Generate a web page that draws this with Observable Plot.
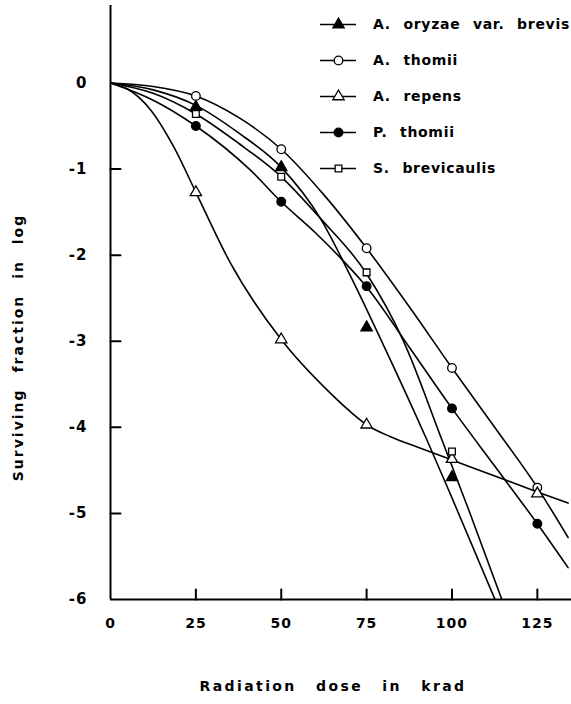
<!DOCTYPE html>
<html><head><meta charset="utf-8">
<script src="https://cdn.jsdelivr.net/npm/d3@7"></script>
<script src="https://cdn.jsdelivr.net/npm/@observablehq/plot@0.6"></script>
<style>
body{margin:0;background:#fff;}
#wrap{position:relative;width:571px;height:704px;font-family:"DejaVu Sans",sans-serif;color:#000;}
#wrap svg text{letter-spacing:1px;}
.legend{position:absolute;left:320px;top:6px;font-size:14px;font-weight:bold;letter-spacing:0.7px;word-spacing:7px;}
.row{height:36px;display:flex;align-items:center;white-space:nowrap;}
.row svg{margin-right:17px;flex:none;}
</style></head>
<body>
<div id="wrap"><div class="legend" id="legend"></div></div>
<script>
// Species names
const species = ["A. oryzae var. brevis", "A. thomii", "A. repens", "P. thomii", "S. brevicaulis"];
const xTicks = [0, 25, 50, 75, 100, 125];
const yTicks = [0, -1, -2, -3, -4, -5, -6];
const xLabel = "Radiation dose in krad";
const yLabel = "Surviving fraction in log";

// Observed points (dose krad, log surviving fraction)
const oryzaeDose = [25, 50, 75, 100];
const oryzaeVal  = [-0.28, -0.98, -2.84, -4.58];
const athomiiDose = [25, 50, 75, 100, 125];
const athomiiVal  = [-0.15, -0.77, -1.92, -3.31, -4.70];
const repensDose = [25, 50, 75, 100, 125];
const repensVal  = [-1.27, -2.98, -3.97, -4.37, -4.77];
const pthomiiDose = [25, 50, 75, 100, 125];
const pthomiiVal  = [-0.50, -1.38, -2.36, -3.78, -5.12];
const sbrevDose = [25, 50, 75, 100];
const sbrevVal  = [-0.36, -1.09, -2.20, -4.28];

// Fitted curves as drawn in the figure
const oryzaeCurveX = [0, 12.5, 25, 37.5, 50, 61.4, 70, 80, 92.7, 100, 112.6];
const oryzaeCurveY = [0, -0.08, -0.26, -0.58, -0.98, -1.57, -2.22, -3.05, -4.15, -4.82, -6];
const athomiiCurveX = [0, 12.5, 25, 37.5, 50, 62.5, 75, 87.5, 100, 112.5, 125, 134];
const athomiiCurveY = [0, -0.04, -0.15, -0.4, -0.77, -1.3, -1.92, -2.6, -3.31, -4.0, -4.7, -5.28];
const repensCurveX = [0, 5, 11.7, 18.5, 25, 35.1, 50, 64.3, 70, 75, 82, 90.6, 100, 125, 134];
const repensCurveY = [0, -0.07, -0.31, -0.74, -1.27, -2.09, -2.98, -3.6, -3.81, -3.97, -4.11, -4.24, -4.38, -4.75, -4.88];
const pthomiiCurveX = [0, 12.5, 25, 40.9, 50, 60, 67.3, 74.6, 87.5, 100, 112.5, 125, 134];
const pthomiiCurveY = [0, -0.2, -0.5, -1.01, -1.38, -1.74, -2.03, -2.35, -3.07, -3.78, -4.45, -5.12, -5.63];
const sbrevCurveX = [0, 12.5, 25, 37.5, 50, 61.4, 74.9, 85.7, 97.1, 105, 114.6];
const sbrevCurveY = [0, -0.12, -0.36, -0.7, -1.09, -1.57, -2.21, -2.99, -4.15, -4.97, -6];

const zip = (xs, ys) => xs.map((x, i) => ({x, y: ys[i]}));

const series = [
  {name: species[0], pts: zip(oryzaeDose, oryzaeVal), curve: zip(oryzaeCurveX, oryzaeCurveY), symbol: "triangle", fill: "black"},
  {name: species[1], pts: zip(athomiiDose, athomiiVal), curve: zip(athomiiCurveX, athomiiCurveY), symbol: "circle", fill: "white"},
  {name: species[2], pts: zip(repensDose, repensVal), curve: zip(repensCurveX, repensCurveY), symbol: "triangle", fill: "white"},
  {name: species[3], pts: zip(pthomiiDose, pthomiiVal), curve: zip(pthomiiCurveX, pthomiiCurveY), symbol: "circle", fill: "black"},
  {name: species[4], pts: zip(sbrevDose, sbrevVal), curve: zip(sbrevCurveX, sbrevCurveY), symbol: "square", fill: "white"}
];
const sizes = {circle: 4.3, triangle: 4.2, square: 3.8};

const W = 571, H = 704, ML = 110, MR = 0, MT = 5, MB = 105;
const xDomain = [0, 135], yDomain = [-6, 0.9];
const TICK = 10; // tick length in px
const tickLenY = TICK * (yDomain[1] - yDomain[0]) / (H - MT - MB);
const tickLenX = TICK * (xDomain[1] - xDomain[0]) / (W - ML - MR);
// tick segments built from the tick arrays
const xTickSegs = xTicks.filter(d => d > xDomain[0]).flatMap(t => [{x: t, y: yDomain[0], k: t}, {x: t, y: yDomain[0] + tickLenY, k: t}]);
const yTickSegs = yTicks.filter(d => d > yDomain[0] && d < 0).flatMap(t => [{x: xDomain[0], y: t, k: t}, {x: xDomain[0] + tickLenX, y: t, k: t}]);

const marks = [
  Plot.axisX({ticks: xTicks, tickSize: 0, tickPadding: 19, tickFormat: d => String(d), label: null, fontSize: 14, fontWeight: "bold"}),
  Plot.axisY({ticks: yTicks, tickSize: 0, tickPadding: 23, tickFormat: d => d === 0 ? "0" : "-" + Math.abs(d), label: null, fontSize: 15, fontWeight: "bold"}),
  Plot.line(xTickSegs, {x: "x", y: "y", z: "k", stroke: "black", strokeWidth: 2}),
  Plot.line(yTickSegs, {x: "x", y: "y", z: "k", stroke: "black", strokeWidth: 2}),
  Plot.ruleX([xDomain[0]], {strokeWidth: 2}),
  Plot.ruleY([yDomain[0]], {strokeWidth: 2}),
];
for (const s of series) {
  marks.push(Plot.line(s.curve, {x: "x", y: "y", curve: "monotone-x", stroke: "black", strokeWidth: 1.6, clip: true}));
}
for (const s of series) {
  marks.push(Plot.dot(s.pts, {x: "x", y: "y", symbol: () => s.symbol, r: sizes[s.symbol], fill: s.fill, stroke: "black", strokeWidth: 1.3}));
}
marks.push(Plot.text([xLabel], {text: d => d, frameAnchor: "bottom", textAnchor: "middle", dx: -8, dy: 91, fontSize: 14, fontWeight: "bold"}));
marks.push(Plot.text([yLabel], {text: d => d, frameAnchor: "left", textAnchor: "middle", dx: -92, dy: 45, rotate: -90, fontSize: 14, fontWeight: "bold"}));

const chart = Plot.plot({
  width: W, height: H,
  marginLeft: ML, marginRight: MR, marginTop: MT, marginBottom: MB,
  x: {domain: xDomain},
  y: {domain: yDomain},
  symbol: {type: "identity"},
  style: {fontFamily: "DejaVu Sans", fontSize: "14px", color: "#000", background: "#fff", overflow: "visible"},
  marks
});
document.getElementById("wrap").prepend(chart);
d3.select(chart).selectAll("text").each(function() {
  const t = this.textContent;
  if (t === xLabel) { this.style.letterSpacing = "2.4px"; this.style.wordSpacing = "12px"; }
  else if (t === yLabel) { this.style.letterSpacing = "2px"; this.style.wordSpacing = "9px"; }
});

// Legend
const legend = document.getElementById("legend");
for (const s of series) {
  const row = document.createElement("div");
  row.className = "row";
  const sw = Plot.plot({
    width: 36, height: 14, margin: 0,
    x: {domain: [0, 1], axis: null}, y: {domain: [0, 1], axis: null},
    symbol: {type: "identity"},
    style: {background: "transparent", overflow: "visible"},
    marks: [
      Plot.ruleY([0.5], {stroke: "black", strokeWidth: 1.5}),
      Plot.dot([0.5], {x: d => d, y: 0.5, symbol: () => s.symbol, r: sizes[s.symbol], fill: s.fill, stroke: "black", strokeWidth: 1.3})
    ]
  });
  row.appendChild(sw);
  const t = document.createElement("span");
  t.textContent = s.name;
  row.appendChild(t);
  legend.appendChild(row);
}
</script>
</body></html>
